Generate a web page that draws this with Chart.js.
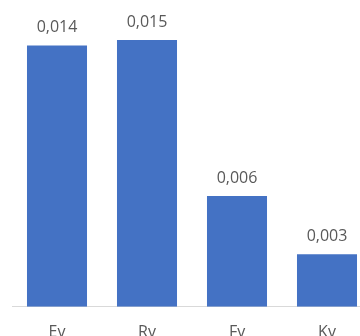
<!DOCTYPE html>
<html>
<head>
<meta charset="utf-8">
<script src="https://cdn.jsdelivr.net/npm/chart.js@4/dist/chart.umd.min.js"></script>
<style>
  html, body { margin: 0; padding: 0; background: #fff; overflow: hidden; }
  #wrap { width: 360px; height: 336px; overflow: hidden; position: relative; }
  canvas { position: absolute; left: 0; top: 0; }
</style>
</head>
<body>
<div id="wrap"><canvas id="chart" width="380" height="362"></canvas></div>
<script>
const categories = ["Ev", "Rv", "Fv", "Kv"];
const values = [0.0144, 0.0147, 0.0061, 0.0029];

const labelColor = "#595959";
const barColor = "#4472C4";

// value labels above each bar, comma decimal
const valueLabels = {
  id: "valueLabels",
  afterDatasetsDraw(chart) {
    const ctx = chart.ctx;
    const meta = chart.getDatasetMeta(0);
    ctx.save();
    ctx.font = "16px 'Open Sans'";
    ctx.fillStyle = labelColor;
    ctx.textAlign = "center";
    ctx.textBaseline = "alphabetic";
    meta.data.forEach((bar, i) => {
      const txt = values[i].toFixed(3).replace(".", ",");
      ctx.fillText(txt, bar.x, bar.y - 13);
    });
    ctx.restore();
  }
};

new Chart(document.getElementById("chart"), {
  type: "bar",
  data: {
    labels: categories,
    datasets: [{
      data: values,
      backgroundColor: barColor,
      categoryPercentage: 1,
      barPercentage: 0.667
    }]
  },
  options: {
    responsive: false,
    devicePixelRatio: 1,
    animation: false,
    layout: { padding: { left: 12, right: 8, top: 20, bottom: 4 } },
    plugins: { legend: { display: false }, tooltip: { enabled: false } },
    scales: {
      x: {
        grid: { display: false, drawTicks: false },
        border: { display: true, color: "#d9d9d9", width: 1 },
        ticks: { color: labelColor, font: { family: "'Open Sans'", size: 16 }, padding: 16 }
      },
      y: {
        display: false,
        min: 0,
        max: 0.0158
      }
    }
  },
  plugins: [valueLabels]
});
</script>
</body>
</html>
